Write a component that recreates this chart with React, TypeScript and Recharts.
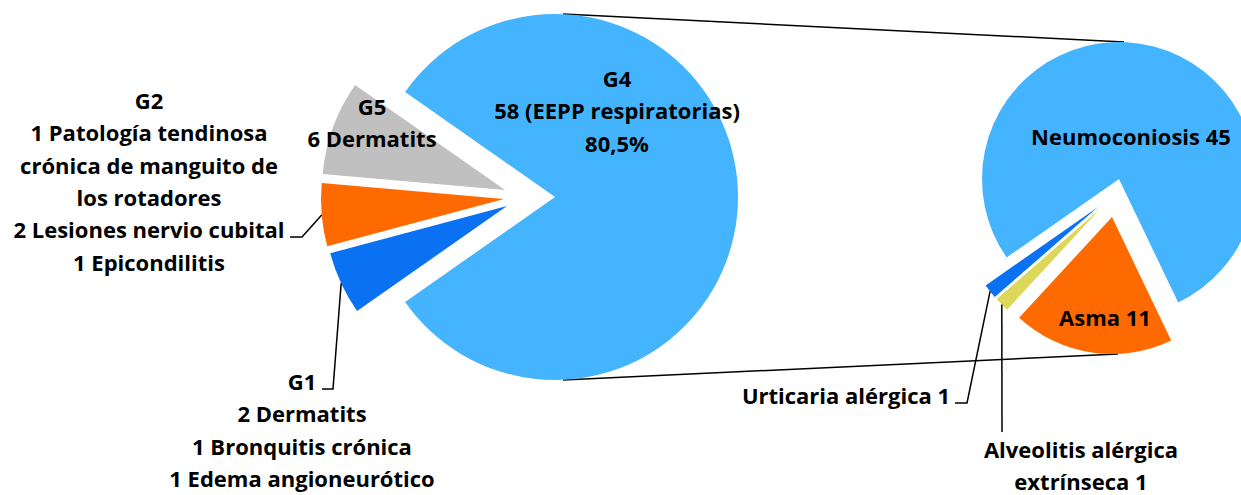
import React from 'react';
import { Cell, Pie, PieChart } from 'recharts';

if (typeof document !== 'undefined') document.body.style.margin = '0';

// left pie: groups
const groupNames = ['G4', 'G5', 'G2', 'G1'];
const groupValues = [58, 6, 4, 4];
const groupColors = ['#44B4FF', '#C0C0C0', '#FF6A00', '#0A72F2'];

// right pie: breakdown of G4
const g4Names = ['Neumoconiosis', 'Urticaria alérgica', 'Alveolitis alérgica extrínseca', 'Asma'];
const g4Values = [45, 1, 1, 11];
const g4Colors = ['#44B4FF', '#0A72F2', '#DDD75A', '#FF6A00'];

const g4Lines = ['G4', '58 (EEPP respiratorias)', '80,5%'];
const g5Lines = ['G5', '6 Dermatits'];
const g2Lines = ['G2', '1 Patología tendinosa', 'crónica de manguito de', 'los rotadores', '2 Lesiones nervio cubital', '1 Epicondilitis'];
const g1Lines = ['G1', '2 Dermatits', '1 Bronquitis crónica', '1 Edema angioneurótico'];
const neumoLabel = 'Neumoconiosis 45';
const asmaLabel = 'Asma 11';
const urticariaLabel = 'Urticaria alérgica 1';
const alveolitisLines = ['Alveolitis alérgica', 'extrínseca 1'];

const leftData = groupNames.map((name, i) => ({ name, value: groupValues[i] }));
const rightData = g4Names.map((name, i) => ({ name, value: g4Values[i] }));

const RAD = Math.PI / 180;
const font = { fontFamily: '"Open Sans", sans-serif', fontWeight: 700, fontSize: 22, fill: '#000' };

// exploded slices: shift of each slice's vertex
const leftShift = [[0, 0], [-50, -7], [-51, 2], [-48, 9]];
const rightShift = [[0, 0], [-21, 28], [-19, 30], [-7, 38]];

// leader elbows (from slice edge to text)
const leftLeaders: Record<number, number[][]> = { 2: [[302, 237], [290, 237]], 3: [[333, 389], [322, 389]] };
const rightLeaders: Record<number, number[][]> = { 1: [[967, 403], [955, 403]], 2: [[1002, 432]] };

function Lines({ lines, x, y, step = 32.3 }: { lines: string[]; x: number; y: number; step?: number }) {
  return (
    <g>
      {lines.map((t, i) => (
        <text key={i} x={x} y={y + i * step} textAnchor="middle" dominantBaseline="central" {...font}>
          {t}
        </text>
      ))}
    </g>
  );
}

const annotations = (
  <g>
    <Lines lines={g4Lines} x={617} y={78} />
    <Lines lines={g5Lines} x={372} y={106} />
    <Lines lines={g2Lines} x={149} y={100} />
    <Lines lines={g1Lines} x={302} y={381} />
    <Lines lines={[neumoLabel]} x={1131} y={136} />
    <Lines lines={[asmaLabel]} x={1105} y={317} />
    <Lines lines={[urticariaLabel]} x={846} y={395} />
    <Lines lines={alveolitisLines} x={1081} y={449} step={31.5} />
  </g>
);

const label = (elbows: Record<number, number[][]>, slice: number, withText: boolean) => (p: any) => {
  if (p.index !== slice) return null;
  let line = null;
  if (elbows[slice]) {
    const x = p.cx + p.outerRadius * Math.cos(-p.midAngle * RAD);
    const y = p.cy + p.outerRadius * Math.sin(-p.midAngle * RAD);
    const pts = [[x, y], ...elbows[slice]].map((q) => q.join(',')).join(' ');
    line = <polyline points={pts} fill="none" stroke="#000" strokeWidth={1.5} />;
  }
  return (
    <g>
      {line}
      {withText ? annotations : null}
    </g>
  );
};

export default function App() {
  return (
    <PieChart width={1241} height={495} margin={{ top: 0, right: 0, bottom: 0, left: 0 }}>
      <line x1={563} y1={14} x2={1124} y2={42} stroke="#000" strokeWidth={1.5} />
      <line x1={563} y1={380} x2={1118} y2={354} stroke="#000" strokeWidth={1.5} />
      {leftShift.map(([dx, dy], i) => (
        <Pie
          key={'l' + i}
          data={leftData}
          dataKey="value"
          nameKey="name"
          cx={555 + dx}
          cy={197 + dy}
          outerRadius={183}
          startAngle={-145}
          endAngle={215}
          stroke="none"
          isAnimationActive={false}
          labelLine={false}
          label={label(leftLeaders, i, false)}
        >
          {leftData.map((d, j) => (
            <Cell key={d.name} fill={j === i ? groupColors[j] : 'none'} />
          ))}
        </Pie>
      ))}
      {rightShift.map(([dx, dy], i) => (
        <Pie
          key={'r' + i}
          data={rightData}
          dataKey="value"
          nameKey="name"
          cx={1119 + dx}
          cy={179 + dy}
          outerRadius={137}
          startAngle={-64.4}
          endAngle={295.6}
          stroke="none"
          isAnimationActive={false}
          labelLine={false}
          label={label(rightLeaders, i, i === rightShift.length - 1)}
        >
          {rightData.map((d, j) => (
            <Cell key={d.name} fill={j === i ? g4Colors[j] : 'none'} />
          ))}
        </Pie>
      ))}
    </PieChart>
  );
}
